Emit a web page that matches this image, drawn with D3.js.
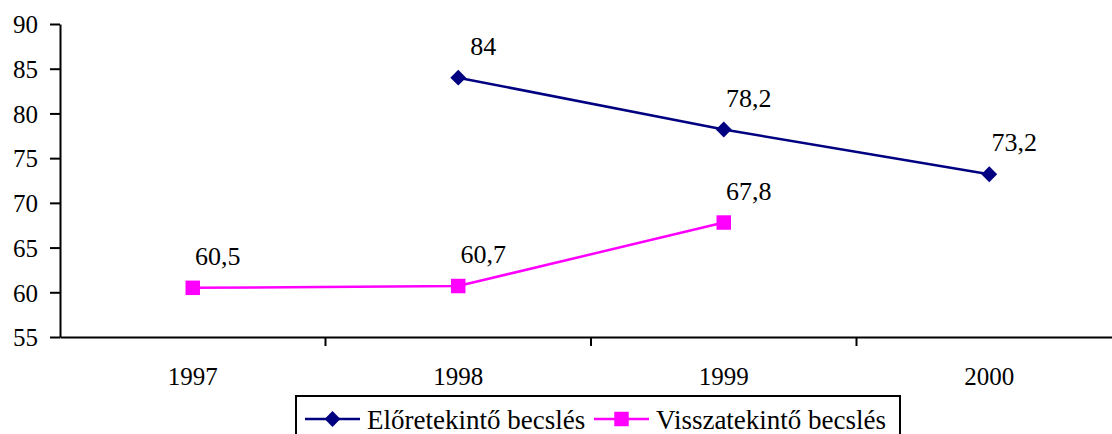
<!DOCTYPE html>
<html lang="hu">
<head>
    <meta charset="utf-8">
    <title>Becslések</title>
    <style>
        body {
            margin: 0;
            background: #fff;
        }

        svg {
            display: block;
        }

        .axis path, .axis line {
            stroke: #000;
            stroke-width: 2px;
        }
    </style>
</head>
<body>

<svg width="1112" height="434"></svg>

<script src="https://d3js.org/d3.v7.min.js"></script>
<script>

    // data
    const years = ["1997", "1998", "1999", "2000"];
    const eloreSeries = [null, 84, 78.2, 73.2];      // Előretekintő becslés
    const visszaSeries = [60.5, 60.7, 67.8, null];   // Visszatekintő becslés
    const yTicks = [55, 60, 65, 70, 75, 80, 85, 90];
    const seriesNames = ["Előretekintő becslés", "Visszatekintő becslés"];

    const serif = "'Liberation Serif', 'Times New Roman', serif";

    const svg = d3.select("svg");

    const plot = {left: 60, right: 1122, top: 24, bottom: 337};

    const x = d3.scaleBand()
        .domain(years)
        .range([plot.left, plot.right])
        .padding(0);

    const y = d3.scaleLinear()
        .domain([55, 90])
        .range([plot.bottom, plot.top]);

    const cx = d => x(d) + x.bandwidth() / 2;

    // y axis
    svg.append("g")
        .attr("class", "axis")
        .attr("transform", `translate(${plot.left},0)`)
        .call(d3.axisLeft(y).tickValues(yTicks).tickSize(10).tickPadding(12).tickSizeOuter(0))
        .attr("font-family", serif)
        .attr("font-size", 25)
        .call(g => g.selectAll("text").attr("dy", "0.35em").attr("fill", "#000"));

    // x axis: labels centred in bands, tick marks on band boundaries
    const xg = svg.append("g")
        .attr("class", "axis")
        .attr("transform", `translate(0,${plot.bottom})`)
        .call(d3.axisBottom(x).tickSize(0).tickPadding(30).tickSizeOuter(0))
        .attr("font-family", serif)
        .attr("font-size", 25);
    xg.selectAll(".tick text").attr("dy", "0.71em").attr("fill", "#000");

    xg.selectAll(".bound")
        .data(years.slice(1))
        .enter()
        .append("line")
        .attr("class", "bound")
        .attr("x1", d => x(d))
        .attr("x2", d => x(d))
        .attr("y1", 0)
        .attr("y2", 9);

    // series
    const series = [
        {name: seriesNames[0], values: eloreSeries, color: "#000080", marker: d3.symbolDiamond2, size: 160},
        {name: seriesNames[1], values: visszaSeries, color: "#FF00FF", marker: d3.symbolSquare, size: 210}
    ];

    const line = d3.line()
        .defined(d => d.v != null)
        .x(d => cx(d.year))
        .y(d => y(d.v));

    series.forEach(s => {
        const pts = years.map((yr, i) => ({year: yr, v: s.values[i]}));
        const valid = pts.filter(d => d.v != null);

        svg.append("path")
            .datum(pts)
            .attr("fill", "none")
            .attr("stroke", s.color)
            .attr("stroke-width", 2.5)
            .attr("d", line);

        svg.selectAll(null)
            .data(valid)
            .enter()
            .append("path")
            .attr("transform", d => `translate(${cx(d.year)},${y(d.v)})`)
            .attr("d", d3.symbol().type(s.marker).size(s.size))
            .attr("fill", s.color);

        svg.selectAll(null)
            .data(valid)
            .enter()
            .append("text")
            .attr("x", d => cx(d.year) + 25)
            .attr("y", d => y(d.v) - 23)
            .attr("text-anchor", "middle")
            .style("font-family", serif)
            .style("font-size", "26px")
            .text(d => String(d.v).replace(".", ","));
    });

    // legend
    const legend = svg.append("g");
    legend.append("rect")
        .attr("x", 296)
        .attr("y", 396)
        .attr("width", 604)
        .attr("height", 50)
        .attr("fill", "#fff")
        .attr("stroke", "#000")
        .attr("stroke-width", 2);

    const legX = [305, 594];
    series.forEach((s, i) => {
        const g = legend.append("g").attr("transform", `translate(${legX[i]},419)`);
        g.append("line")
            .attr("x1", 0).attr("x2", 55)
            .attr("stroke", s.color)
            .attr("stroke-width", 2.5);
        g.append("path")
            .attr("transform", "translate(27.5,0)")
            .attr("d", d3.symbol().type(s.marker).size(s.size))
            .attr("fill", s.color);
        g.append("text")
            .attr("x", 62)
            .attr("y", 10)
            .style("font-family", serif)
            .style("font-size", "27px")
            .text(s.name);
    });

</script>

</body>
</html>
